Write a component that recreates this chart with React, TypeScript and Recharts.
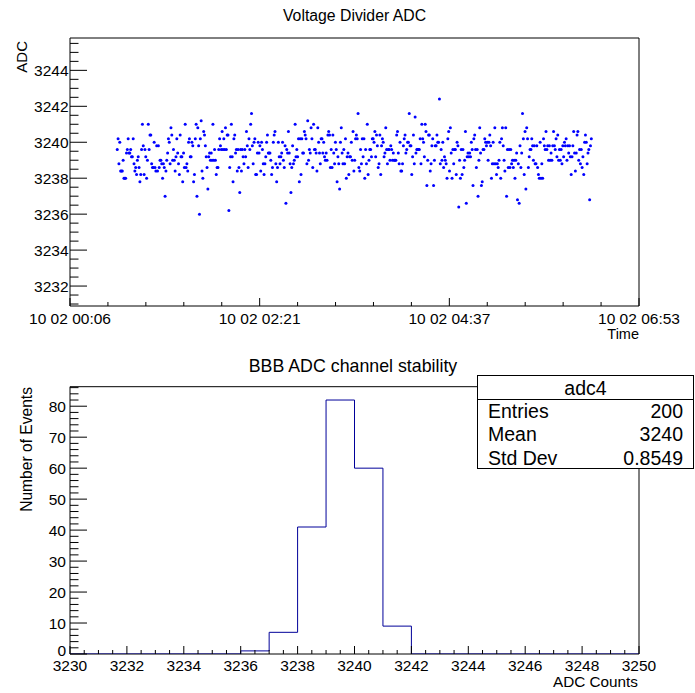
import { ScatterChart, Scatter, LineChart, Line, XAxis, YAxis, ReferenceArea } from "recharts"

// ---- top pad: ADC readings over time ----
const adcValues = [
  3239.6, 3240.2, 3238.8, 3240.0, 3238.4, 3238.4, 3238.4, 3239.0, 3238.0, 3238.0, 3238.0, 3239.4, 3239.6, 3240.2, 3239.4, 3239.4,
  3239.6, 3239.2, 3239.2, 3240.2, 3238.8, 3238.4, 3238.6, 3238.2, 3239.0, 3239.2, 3238.6, 3237.8, 3238.2, 3239.6, 3241.0, 3239.8,
  3238.2, 3239.6, 3239.2, 3238.0, 3239.0, 3241.0, 3239.6, 3240.4, 3240.4, 3238.8, 3238.6, 3238.6, 3240.0, 3238.6, 3238.4, 3239.8,
  3238.4, 3239.8, 3238.6, 3239.0, 3239.0, 3238.8, 3238.0, 3238.8, 3238.6, 3237.0, 3238.4, 3239.0, 3239.4, 3240.2, 3240.0, 3238.8,
  3240.8, 3240.4, 3239.0, 3239.6, 3239.0, 3238.4, 3239.2, 3240.2, 3239.4, 3238.8, 3238.2, 3240.4, 3239.2, 3239.2, 3237.8, 3239.4,
  3238.6, 3241.0, 3238.6, 3238.8, 3238.4, 3240.0, 3240.2, 3239.2, 3239.2, 3240.0, 3239.8, 3237.8, 3238.2, 3240.2, 3241.0, 3237.0,
  3240.8, 3239.8, 3236.0, 3240.2, 3241.2, 3238.4, 3238.0,
  3240.6, 3240.4, 3239.8, 3239.2, 3238.6, 3237.4, 3239.2, 3239.4, 3239.0, 3239.4, 3239.0, 3241.0, 3239.0, 3239.6, 3239.0, 3238.2,
  3238.6, 3238.6, 3239.6, 3240.2, 3239.8, 3239.6, 3240.6, 3239.6, 3240.2, 3239.6, 3240.8, 3239.6, 3240.4, 3240.4, 3236.2, 3238.6,
  3239.2, 3241.0, 3239.2, 3237.8, 3240.2, 3240.4, 3239.4, 3239.6, 3238.4, 3239.6, 3238.6, 3237.2, 3239.6, 3238.4, 3239.6, 3239.2,
  3238.8, 3239.6, 3239.2, 3240.6, 3239.8, 3238.6, 3240.2, 3239.6, 3241.0, 3241.6, 3239.8, 3238.8, 3240.0, 3240.2, 3238.2, 3238.2,
  3239.4, 3240.0, 3239.4, 3239.8, 3238.4, 3240.0, 3239.6, 3238.8, 3238.2, 3238.8, 3239.2, 3240.0, 3240.4, 3239.4, 3239.4, 3239.4,
  3239.0, 3238.2, 3238.6, 3240.0, 3240.4, 3240.6, 3238.8, 3237.8, 3238.6, 3240.0, 3239.2, 3238.8, 3239.2, 3239.4, 3240.0, 3239.0,
  3238.6, 3239.8, 3236.6, 3239.6, 3239.4, 3240.6, 3239.4, 3238.8, 3237.2, 3238.6, 3239.8, 3238.8, 3239.0, 3241.0, 3239.2, 3239.6,
  3239.2, 3240.2, 3237.8, 3240.2, 3238.2, 3240.2, 3239.4, 3239.4, 3240.6, 3240.4, 3240.2, 3238.8, 3241.2, 3239.0, 3239.6, 3239.4,
  3240.8, 3240.2, 3238.6, 3241.0, 3239.6, 3239.6, 3239.4, 3238.4, 3240.8, 3240.0, 3239.4, 3238.8, 3240.2, 3240.2, 3239.4, 3240.0,
  3239.2, 3239.0, 3239.4, 3239.0, 3240.4, 3240.6, 3240.4, 3238.6, 3239.6, 3238.6, 3240.4, 3239.4, 3238.8, 3240.0, 3239.6, 3237.8,
  3239.2, 3238.8, 3237.4, 3240.0, 3240.8, 3239.4, 3238.8, 3239.6, 3238.8, 3240.2, 3238.0, 3239.2, 3239.4, 3238.2, 3239.2, 3239.2,
  3240.0, 3239.0, 3240.6, 3238.4, 3239.0, 3240.2, 3240.4, 3240.2, 3241.6, 3238.6, 3238.4, 3239.6, 3238.8, 3240.2, 3239.2, 3240.2,
  3238.0, 3239.6, 3238.8, 3241.0, 3238.2, 3239.0, 3239.6, 3239.6, 3239.2, 3240.2, 3240.2, 3240.0, 3240.6, 3239.2, 3240.4, 3239.8,
  3238.6, 3238.8, 3240.4, 3238.2, 3239.8, 3240.2, 3240.0, 3239.2, 3239.4, 3240.8, 3239.6, 3238.8, 3239.6, 3239.6, 3239.0, 3239.8,
  3239.6, 3239.0, 3239.4, 3239.0, 3239.0, 3239.0, 3240.4, 3240.6, 3239.4, 3238.8, 3240.0, 3238.4, 3238.4, 3238.8, 3239.8, 3240.2,
  3240.4, 3239.4, 3239.6, 3240.0, 3240.0, 3241.6, 3239.8, 3239.8, 3238.2, 3239.2, 3240.4, 3238.8, 3241.4, 3239.4, 3239.6, 3239.6,
  3239.6, 3239.6, 3240.2, 3238.8, 3241.0, 3240.2, 3240.0, 3239.2, 3241.0, 3240.6, 3237.6, 3239.0, 3240.4, 3240.4, 3238.4, 3238.8,
  3239.8, 3240.2, 3237.6, 3239.0, 3239.8, 3239.8, 3240.4, 3240.0, 3240.0, 3242.4, 3238.8, 3239.6, 3239.0, 3240.0, 3238.6, 3239.2,
  3239.0, 3238.8, 3238.0, 3240.2, 3240.6, 3238.4, 3240.8, 3239.4, 3238.0, 3239.6, 3238.8, 3239.6, 3239.6, 3238.2, 3240.0, 3239.8,
  3236.4, 3239.0, 3238.0, 3239.6, 3238.2, 3239.6, 3238.6, 3239.0, 3240.6, 3236.6, 3239.2, 3239.4, 3239.2, 3239.4, 3239.2, 3240.0,
  3239.6, 3237.6, 3240.2, 3240.4, 3239.6, 3238.6, 3239.6, 3237.0, 3239.0, 3240.8, 3239.4, 3237.6, 3237.8, 3239.6, 3239.6, 3240.2,
  3240.0, 3239.8,
  3240.0, 3239.0, 3240.0, 3240.4, 3239.8, 3238.0, 3238.8, 3240.0, 3238.8, 3240.8, 3238.8, 3238.2, 3238.8, 3238.6, 3239.0, 3240.0,
  3238.0, 3240.2, 3240.8, 3239.8, 3239.0, 3238.4, 3240.8, 3237.0, 3239.6, 3238.6, 3239.6, 3238.6, 3239.6, 3238.8, 3239.0, 3238.6,
  3239.0, 3238.0, 3239.0, 3239.4, 3236.8, 3238.8, 3236.6, 3239.8, 3238.6, 3239.4, 3241.6, 3240.2, 3238.2, 3240.6, 3237.4, 3240.8,
  3240.2, 3238.6, 3239.2, 3239.6, 3239.6, 3240.2, 3239.8, 3239.0, 3239.8, 3238.8, 3238.8, 3239.8, 3238.6, 3238.2, 3238.0, 3240.0,
  3238.0, 3238.8, 3238.0, 3240.2, 3239.8, 3239.6, 3240.6, 3239.6, 3239.8, 3239.0, 3239.8, 3239.0, 3239.4, 3239.0, 3239.8, 3240.6,
  3239.8, 3239.6, 3240.2, 3239.2, 3240.4, 3239.0, 3239.6, 3239.0, 3239.6, 3238.8, 3239.8, 3239.2, 3240.0, 3239.8, 3240.2, 3239.0,
  3239.8, 3239.4, 3239.8, 3239.2, 3238.2, 3239.2, 3239.8, 3240.6, 3239.4, 3238.4, 3239.4, 3240.4, 3240.6, 3239.0, 3239.6, 3238.8,
  3239.6, 3238.6, 3239.2, 3238.2, 3240.0, 3240.4, 3240.0, 3238.8, 3239.4, 3239.6, 3236.8, 3239.8, 3240.2,
]
// readings are evenly spaced in time (minutes after midnight, 10 02)
const firstSampleMin = 39.8
const lastSampleMin = 378.9

const timeMajorMin = [6, 141.67, 277.33, 413]
const timeTickLabels = ["10 02 00:06", "10 02 02:21", "10 02 04:37", "10 02 06:53"]
const adcMajorTicks = [3232, 3234, 3236, 3238, 3240, 3242, 3244]
const adcDomain = [3230.89, 3245.8]

// ---- bottom pad: histogram ----
const binStart = 3230
const binCounts = [0, 0, 0, 0, 0, 0, 1, 7, 41, 82, 60, 9, 0, 0, 0, 0, 0, 0, 0, 0]
const countMajorTicks = [3230, 3232, 3234, 3236, 3238, 3240, 3242, 3244, 3246, 3248, 3250]
const eventMajorTicks = [0, 10, 20, 30, 40, 50, 60, 70, 80]
const eventsMax = 86.3

const statsTitle = "adc4"
const statsRows = [
  ["Entries", "200"],
  ["Mean", "3240"],
  ["Std Dev", "0.8549"],
]

const FONT = "'Liberation Sans', Arial, Helvetica, sans-serif"
const LEFT = 70
const RIGHT = 639
const TOP1 = 38
const BOT1 = 306
const TOP2 = 40.7 // inside the bottom chart (which starts at y=346)
const BOT2 = 308
const AXIS_W = 60
const AXIS_H = 30

// minor ticks
const timeTicks: number[] = []
for (let i = 0; i < timeMajorMin.length - 1; i++) {
  for (let k = 0; k < 5; k++) timeTicks.push(timeMajorMin[i] + ((timeMajorMin[i + 1] - timeMajorMin[i]) * k) / 5)
}
timeTicks.push(timeMajorMin[timeMajorMin.length - 1])
const adcTicks: number[] = []
for (let v = 3231; v <= 3245.5; v += 0.5) adcTicks.push(v)
const countTicks: number[] = []
for (let v = 3230; v <= 3250; v += 0.5) countTicks.push(v)
const eventTicks: number[] = []
for (let v = 0; v <= 86; v += 2) eventTicks.push(v)

const points = adcValues.map((v, i) => ({
  t: firstSampleMin + (i * (lastSampleMin - firstSampleMin)) / (adcValues.length - 1),
  v,
}))

const histData = binCounts.map((c, i) => ({ x: binStart + i, y: c }))
histData.push({ x: binStart + binCounts.length, y: 0 })

const isIn = (list: number[], v: number) => list.some((m) => Math.abs(m - v) < 1e-6)

function makeYTick(majors: number[], labelX: number, majorLen: number, minorLen: number, dy = 0) {
  return (props: any) => {
    const v = props.payload.value
    const y = props.y
    const major = isIn(majors, v)
    return (
      <g>
        <line x1={LEFT} x2={LEFT + (major ? majorLen : minorLen)} y1={y} y2={y} stroke="#000" strokeWidth={1} />
        {major && (
          <text x={labelX} y={y + (v === majors[0] ? dy : 0)} dy="0.36em" textAnchor="end" fontSize={15.5} fontFamily={FONT} fill="#000">
            {v}
          </text>
        )}
      </g>
    )
  }
}

function makeXTick(majors: number[], bottom: number, labelY: number, label: (v: number) => string) {
  return (props: any) => {
    const v = props.payload.value
    const x = props.x
    const major = isIn(majors, v)
    return (
      <g>
        <line x1={x} x2={x} y1={bottom} y2={bottom - (major ? 8 : 4)} stroke="#000" strokeWidth={1} />
        {major && (
          <text x={x} y={labelY} textAnchor="middle" fontSize={15.5} fontFamily={FONT} fill="#000">
            {label(v)}
          </text>
        )}
      </g>
    )
  }
}

const Dot = (p: any) => <circle cx={p.cx} cy={p.cy} r={1.5} fill="#0000ff" />

export default function App() {
  return (
    <div style={{ position: "absolute", left: 0, top: 0, width: 695, height: 693, background: "#fff", overflow: "hidden" }}>
      <div style={{ position: "absolute", left: 0, top: 0 }}>
        <ScatterChart
          width={695}
          height={346}
          margin={{ top: TOP1, right: 695 - RIGHT, bottom: 346 - BOT1 - AXIS_H, left: LEFT - AXIS_W }}
        >
          <XAxis
            type="number"
            dataKey="t"
            domain={[timeMajorMin[0], timeMajorMin[timeMajorMin.length - 1]]}
            allowDataOverflow
            ticks={timeTicks}
            interval={0}
            height={AXIS_H}
            axisLine={false}
            tickLine={false}
            tick={makeXTick(timeMajorMin, BOT1, 323.5, (v) => timeTickLabels[timeMajorMin.findIndex((m) => Math.abs(m - v) < 1e-6)])}
          />
          <YAxis
            type="number"
            dataKey="v"
            domain={adcDomain}
            allowDataOverflow
            ticks={adcTicks}
            interval={0}
            width={AXIS_W}
            axisLine={false}
            tickLine={false}
            tick={makeYTick(adcMajorTicks, LEFT - 1.5, 17, 8.5)}
          />
          <ReferenceArea
            x1={timeMajorMin[0]}
            x2={timeMajorMin[timeMajorMin.length - 1]}
            y1={adcDomain[0]}
            y2={adcDomain[1]}
            fill="none"
            stroke="#000"
            strokeWidth={1}
          />
          <Scatter data={points} shape={Dot} isAnimationActive={false} />
        </ScatterChart>
      </div>

      <div style={{ position: "absolute", left: 0, top: 346 }}>
        <LineChart
          width={695}
          height={347}
          data={histData}
          margin={{ top: TOP2, right: 695 - RIGHT, bottom: 347 - BOT2 - AXIS_H, left: LEFT - AXIS_W }}
        >
          <XAxis
            type="number"
            dataKey="x"
            domain={[3230, 3250]}
            allowDataOverflow
            ticks={countTicks}
            interval={0}
            height={AXIS_H}
            axisLine={false}
            tickLine={false}
            tick={makeXTick(countMajorTicks, BOT2, 325, (v) => String(v))}
          />
          <YAxis
            type="number"
            domain={[0, eventsMax]}
            allowDataOverflow
            ticks={eventTicks}
            interval={0}
            width={AXIS_W}
            axisLine={false}
            tickLine={false}
            tick={makeYTick(eventMajorTicks, LEFT - 4, 17, 8.5, -4)}
          />
          <ReferenceArea x1={3230} x2={3250} y1={0} y2={eventsMax} fill="none" stroke="#000" strokeWidth={1} />
          <Line type="stepAfter" dataKey="y" stroke="#000099" strokeWidth={1} dot={false} isAnimationActive={false} />
        </LineChart>
      </div>

      <svg width={695} height={693} style={{ position: "absolute", left: 0, top: 0, pointerEvents: "none" }} fontFamily={FONT}>
        <text x={354.5} y={21} textAnchor="middle" fontSize={15.8}>Voltage Divider ADC</text>
        <text x={27} y={41} textAnchor="end" fontSize={15} transform="rotate(-90 27 41)">ADC</text>
        <text x={639} y={339} textAnchor="end" fontSize={14.5}>Time</text>

        <text x={353} y={372} textAnchor="middle" fontSize={17.8}>BBB ADC channel stability</text>
        <text x={31.5} y={387} textAnchor="end" fontSize={15.6} transform="rotate(-90 31.5 387)">Number of Events</text>
        <text x={638} y={687} textAnchor="end" fontSize={15.3}>ADC Counts</text>

        <rect x={477.5} y={375.5} width={216} height={93} fill="#fff" stroke="#000" strokeWidth={1} />
        <line x1={477.5} x2={693.5} y1={399.5} y2={399.5} stroke="#000" strokeWidth={1} />
        <text x={585.5} y={395} textAnchor="middle" fontSize={19.5}>{statsTitle}</text>
        {statsRows.map((r, i) => (
          <g key={r[0]}>
            <text x={488} y={417.5 + i * 23.5} fontSize={19.5}>{r[0]}</text>
            <text x={683} y={417.5 + i * 23.5} textAnchor="end" fontSize={19.5}>{r[1]}</text>
          </g>
        ))}
      </svg>
    </div>
  )
}
